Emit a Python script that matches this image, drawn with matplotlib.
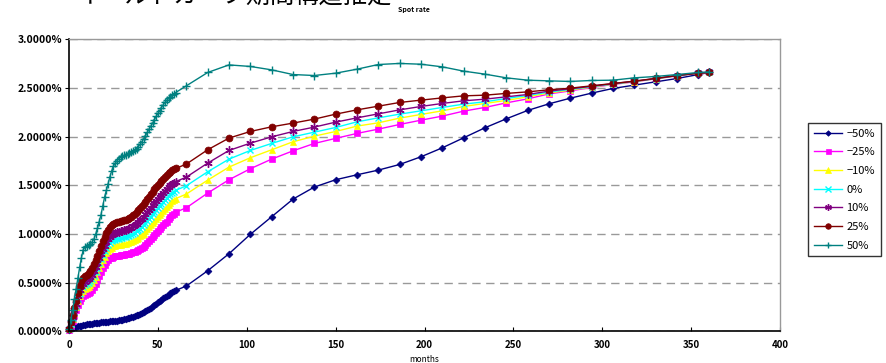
import matplotlib

matplotlib.use("Agg")
import matplotlib.pyplot as plt
from matplotlib.ticker import FuncFormatter, MultipleLocator

plt.rcParams["font.family"] = ["Noto Sans CJK JP", "DejaVu Sans"]

# months: monthly to 60, then yearly steps, last point 360
months = list(range(0, 61)) + list(range(66, 355, 12)) + [360]

labels = ["−50%", "−25%", "−10%", "0%", "10%", "25%", "50%"]

# spot rate in percent
m50 = [0.02, 0.03, 0.037, 0.043, 0.048, 0.052, 0.056, 0.06, 0.064, 0.068,
       0.072, 0.075, 0.078, 0.081, 0.084, 0.087, 0.09, 0.092, 0.094, 0.096,
       0.098, 0.10, 0.102, 0.104, 0.106, 0.108, 0.11, 0.112, 0.115, 0.118,
       0.121, 0.125, 0.129, 0.134, 0.139, 0.145, 0.151, 0.158, 0.165, 0.173,
       0.181, 0.19, 0.20, 0.21, 0.221, 0.233, 0.245, 0.258, 0.271, 0.285,
       0.299, 0.313, 0.327, 0.341, 0.355, 0.368, 0.38, 0.392, 0.403, 0.413,
       0.422,
       0.467, 0.624, 0.799, 0.998, 1.179, 1.360, 1.484, 1.559, 1.610, 1.658,
       1.716, 1.795, 1.887, 1.990, 2.093, 2.185, 2.271, 2.339, 2.397, 2.449,
       2.497, 2.531, 2.565, 2.599, 2.640, 2.661]

m25 = [0.02, 0.06, 0.11, 0.17, 0.22, 0.27, 0.31, 0.34, 0.36, 0.375,
       0.385, 0.395, 0.41, 0.43, 0.46, 0.49, 0.53, 0.57, 0.61, 0.65,
       0.68, 0.71, 0.73, 0.75, 0.76, 0.77, 0.773, 0.776, 0.779, 0.782,
       0.785, 0.789, 0.793, 0.797, 0.801, 0.805, 0.812, 0.82, 0.828, 0.836,
       0.845, 0.857, 0.87, 0.89, 0.91, 0.93, 0.95, 0.97, 0.99, 1.01,
       1.03, 1.05, 1.07, 1.09, 1.11, 1.13, 1.155, 1.18, 1.195, 1.21,
       1.225,
       1.271, 1.422, 1.559, 1.672, 1.771, 1.856, 1.932, 1.984, 2.035, 2.079,
       2.127, 2.171, 2.213, 2.264, 2.302, 2.349, 2.390, 2.441, 2.472, 2.507,
       2.538, 2.565, 2.596, 2.626, 2.654, 2.664]

m10 = [0.023, 0.072, 0.129, 0.192, 0.248, 0.31, 0.36, 0.396, 0.419, 0.435,
       0.447, 0.459, 0.475, 0.498, 0.531, 0.564, 0.608, 0.651, 0.694, 0.737,
       0.77, 0.803, 0.826, 0.849, 0.862, 0.874, 0.879, 0.884, 0.888, 0.891,
       0.895, 0.899, 0.904, 0.91, 0.915, 0.921, 0.931, 0.941, 0.953, 0.964,
       0.977, 0.991, 1.006, 1.028, 1.05, 1.071, 1.093, 1.114, 1.136, 1.157,
       1.179, 1.199, 1.219, 1.239, 1.259, 1.279, 1.301, 1.323, 1.338, 1.351,
       1.365,
       1.412, 1.555, 1.689, 1.785, 1.867, 1.949, 2.007, 2.055, 2.110, 2.144,
       2.192, 2.230, 2.267, 2.312, 2.343, 2.374, 2.411, 2.45, 2.48, 2.512,
       2.541, 2.567, 2.597, 2.627, 2.654, 2.663]

p0 = [0.025, 0.08, 0.14, 0.205, 0.265, 0.335, 0.39, 0.43, 0.455, 0.473,
      0.485, 0.498, 0.515, 0.54, 0.575, 0.61, 0.655, 0.70, 0.745, 0.79,
      0.825, 0.86, 0.885, 0.91, 0.925, 0.938, 0.944, 0.951, 0.955, 0.959,
      0.963, 0.967, 0.972, 0.979, 0.986, 0.993, 1.004, 1.015, 1.029, 1.043,
      1.058, 1.074, 1.09, 1.113, 1.135, 1.158, 1.18, 1.203, 1.225, 1.248,
      1.27, 1.29, 1.31, 1.33, 1.35, 1.37, 1.39, 1.41, 1.425, 1.438,
      1.45,
      1.497, 1.641, 1.771, 1.860, 1.932, 2.000, 2.048, 2.096, 2.154, 2.195,
      2.233, 2.267, 2.302, 2.336, 2.360, 2.394, 2.425, 2.46, 2.487, 2.516,
      2.543, 2.569, 2.598, 2.628, 2.654, 2.662]

p10 = [0.027, 0.088, 0.152, 0.219, 0.283, 0.361, 0.422, 0.466, 0.493, 0.512,
       0.525, 0.539, 0.557, 0.584, 0.621, 0.658, 0.705, 0.752, 0.799, 0.846,
       0.883, 0.92, 0.947, 0.974, 0.991, 1.005, 1.012, 1.02, 1.025, 1.029,
       1.034, 1.038, 1.043, 1.051, 1.059, 1.068, 1.08, 1.093, 1.109, 1.126,
       1.143, 1.16, 1.178, 1.202, 1.225, 1.249, 1.272, 1.296, 1.319, 1.343,
       1.366, 1.386, 1.406, 1.426, 1.446, 1.466, 1.484, 1.502, 1.517, 1.529,
       1.54,
       1.586, 1.730, 1.860, 1.935, 2.000, 2.055, 2.100, 2.151, 2.195, 2.236,
       2.277, 2.312, 2.343, 2.370, 2.387, 2.411, 2.435, 2.47, 2.493, 2.52,
       2.546, 2.571, 2.599, 2.629, 2.654, 2.662]

p25 = [0.03, 0.10, 0.17, 0.24, 0.31, 0.40, 0.47, 0.52, 0.55, 0.57,
       0.585, 0.60, 0.62, 0.65, 0.69, 0.73, 0.78, 0.83, 0.88, 0.93,
       0.97, 1.01, 1.04, 1.07, 1.09, 1.105, 1.115, 1.125, 1.13, 1.135,
       1.14, 1.145, 1.15, 1.16, 1.17, 1.18, 1.195, 1.21, 1.23, 1.25,
       1.27, 1.29, 1.31, 1.335, 1.36, 1.385, 1.41, 1.435, 1.46, 1.485,
       1.51, 1.53, 1.55, 1.57, 1.59, 1.61, 1.625, 1.64, 1.655, 1.665,
       1.675,
       1.720, 1.867, 1.987, 2.055, 2.103, 2.141, 2.182, 2.233, 2.277, 2.315,
       2.353, 2.377, 2.400, 2.421, 2.428, 2.446, 2.462, 2.483, 2.500, 2.524,
       2.548, 2.572, 2.600, 2.630, 2.654, 2.661]

p50 = [0.03, 0.12, 0.22, 0.33, 0.44, 0.55, 0.66, 0.76, 0.84, 0.87,
       0.88, 0.89, 0.90, 0.92, 0.95, 1.00, 1.06, 1.13, 1.20, 1.29,
       1.38, 1.45, 1.52, 1.59, 1.65, 1.70, 1.73, 1.755, 1.775, 1.79,
       1.80, 1.81, 1.815, 1.82, 1.83, 1.84, 1.85, 1.865, 1.88, 1.90,
       1.925, 1.95, 1.98, 2.01, 2.045, 2.08, 2.11, 2.14, 2.175, 2.21,
       2.24, 2.27, 2.30, 2.33, 2.355, 2.375, 2.395, 2.41, 2.425, 2.44,
       2.455,
       2.524, 2.661, 2.739, 2.723, 2.688, 2.640, 2.630, 2.654, 2.695, 2.743,
       2.754, 2.746, 2.719, 2.675, 2.644, 2.606, 2.582, 2.575, 2.569, 2.579,
       2.582, 2.606, 2.620, 2.640, 2.661, 2.667]

series = [m50, m25, m10, p0, p10, p25, p50]
colors = ["#000080", "#ff00ff", "#ffff00", "#00ffff", "#800080", "#800000", "#008080"]
markers = ["D", "s", "^", "x", (6, 2, 0), "o", "+"]
msizes = [3.5, 4.5, 5, 5, 6, 5, 6]

fig = plt.figure(figsize=(8.86, 3.63), dpi=100)
ax = fig.add_axes([0.0779, 0.0868, 0.8025, 0.8044])

for vals, lab, c, mk, ms in zip(series, labels, colors, markers, msizes):
    thin = mk in ("x", "+") or isinstance(mk, tuple)
    ax.plot(months, vals, color=c, marker=mk, markersize=ms, linewidth=1,
            markeredgewidth=1 if thin else 0.5, label=lab, clip_on=False)

ax.set_xlim(0, 400)
ax.set_ylim(0, 3.0)
ax.xaxis.set_major_locator(MultipleLocator(50))
ax.yaxis.set_major_locator(MultipleLocator(0.5))
ax.yaxis.set_major_formatter(FuncFormatter(lambda v, _: f"{v:.4f}%"))
ax.tick_params(axis="x", direction="in", length=3, labelsize=7, pad=6)
ax.tick_params(axis="y", direction="out", length=3, labelsize=7.5, pad=2)
for t in ax.get_xticklabels() + ax.get_yticklabels():
    t.set_fontweight("bold")

ax.grid(axis="y", color="#999999", linestyle=(0, (6, 4)), linewidth=1)
for side in ("top", "right"):
    ax.spines[side].set_color("#999999")
    ax.spines[side].set_linewidth(1)
for side in ("left", "bottom"):
    ax.spines[side].set_color("black")
    ax.spines[side].set_linewidth(1.2)

ax.set_xlabel("months", fontsize=6, labelpad=4)

# title sits mostly above the canvas, as in the source image
fig.text(0.265, 1 - 9 / 363, "イールドカーブ期間構造推定", fontsize=17.5,
         ha="center", va="bottom")
fig.text(0.449, 1 - 13 / 363, "Spot rate", fontsize=5, ha="left", va="bottom",
         fontweight="bold")

leg = ax.legend(loc="upper left", bbox_to_anchor=(0.912, 0.661),
                bbox_transform=fig.transFigure, fontsize=8, frameon=True,
                fancybox=False, edgecolor="black", handlelength=2.6,
                borderpad=0.5, labelspacing=0.78, handletextpad=0.35,
                borderaxespad=0, markerscale=0.8)
leg.get_frame().set_linewidth(1)

fig.savefig("out.png", dpi=100)
